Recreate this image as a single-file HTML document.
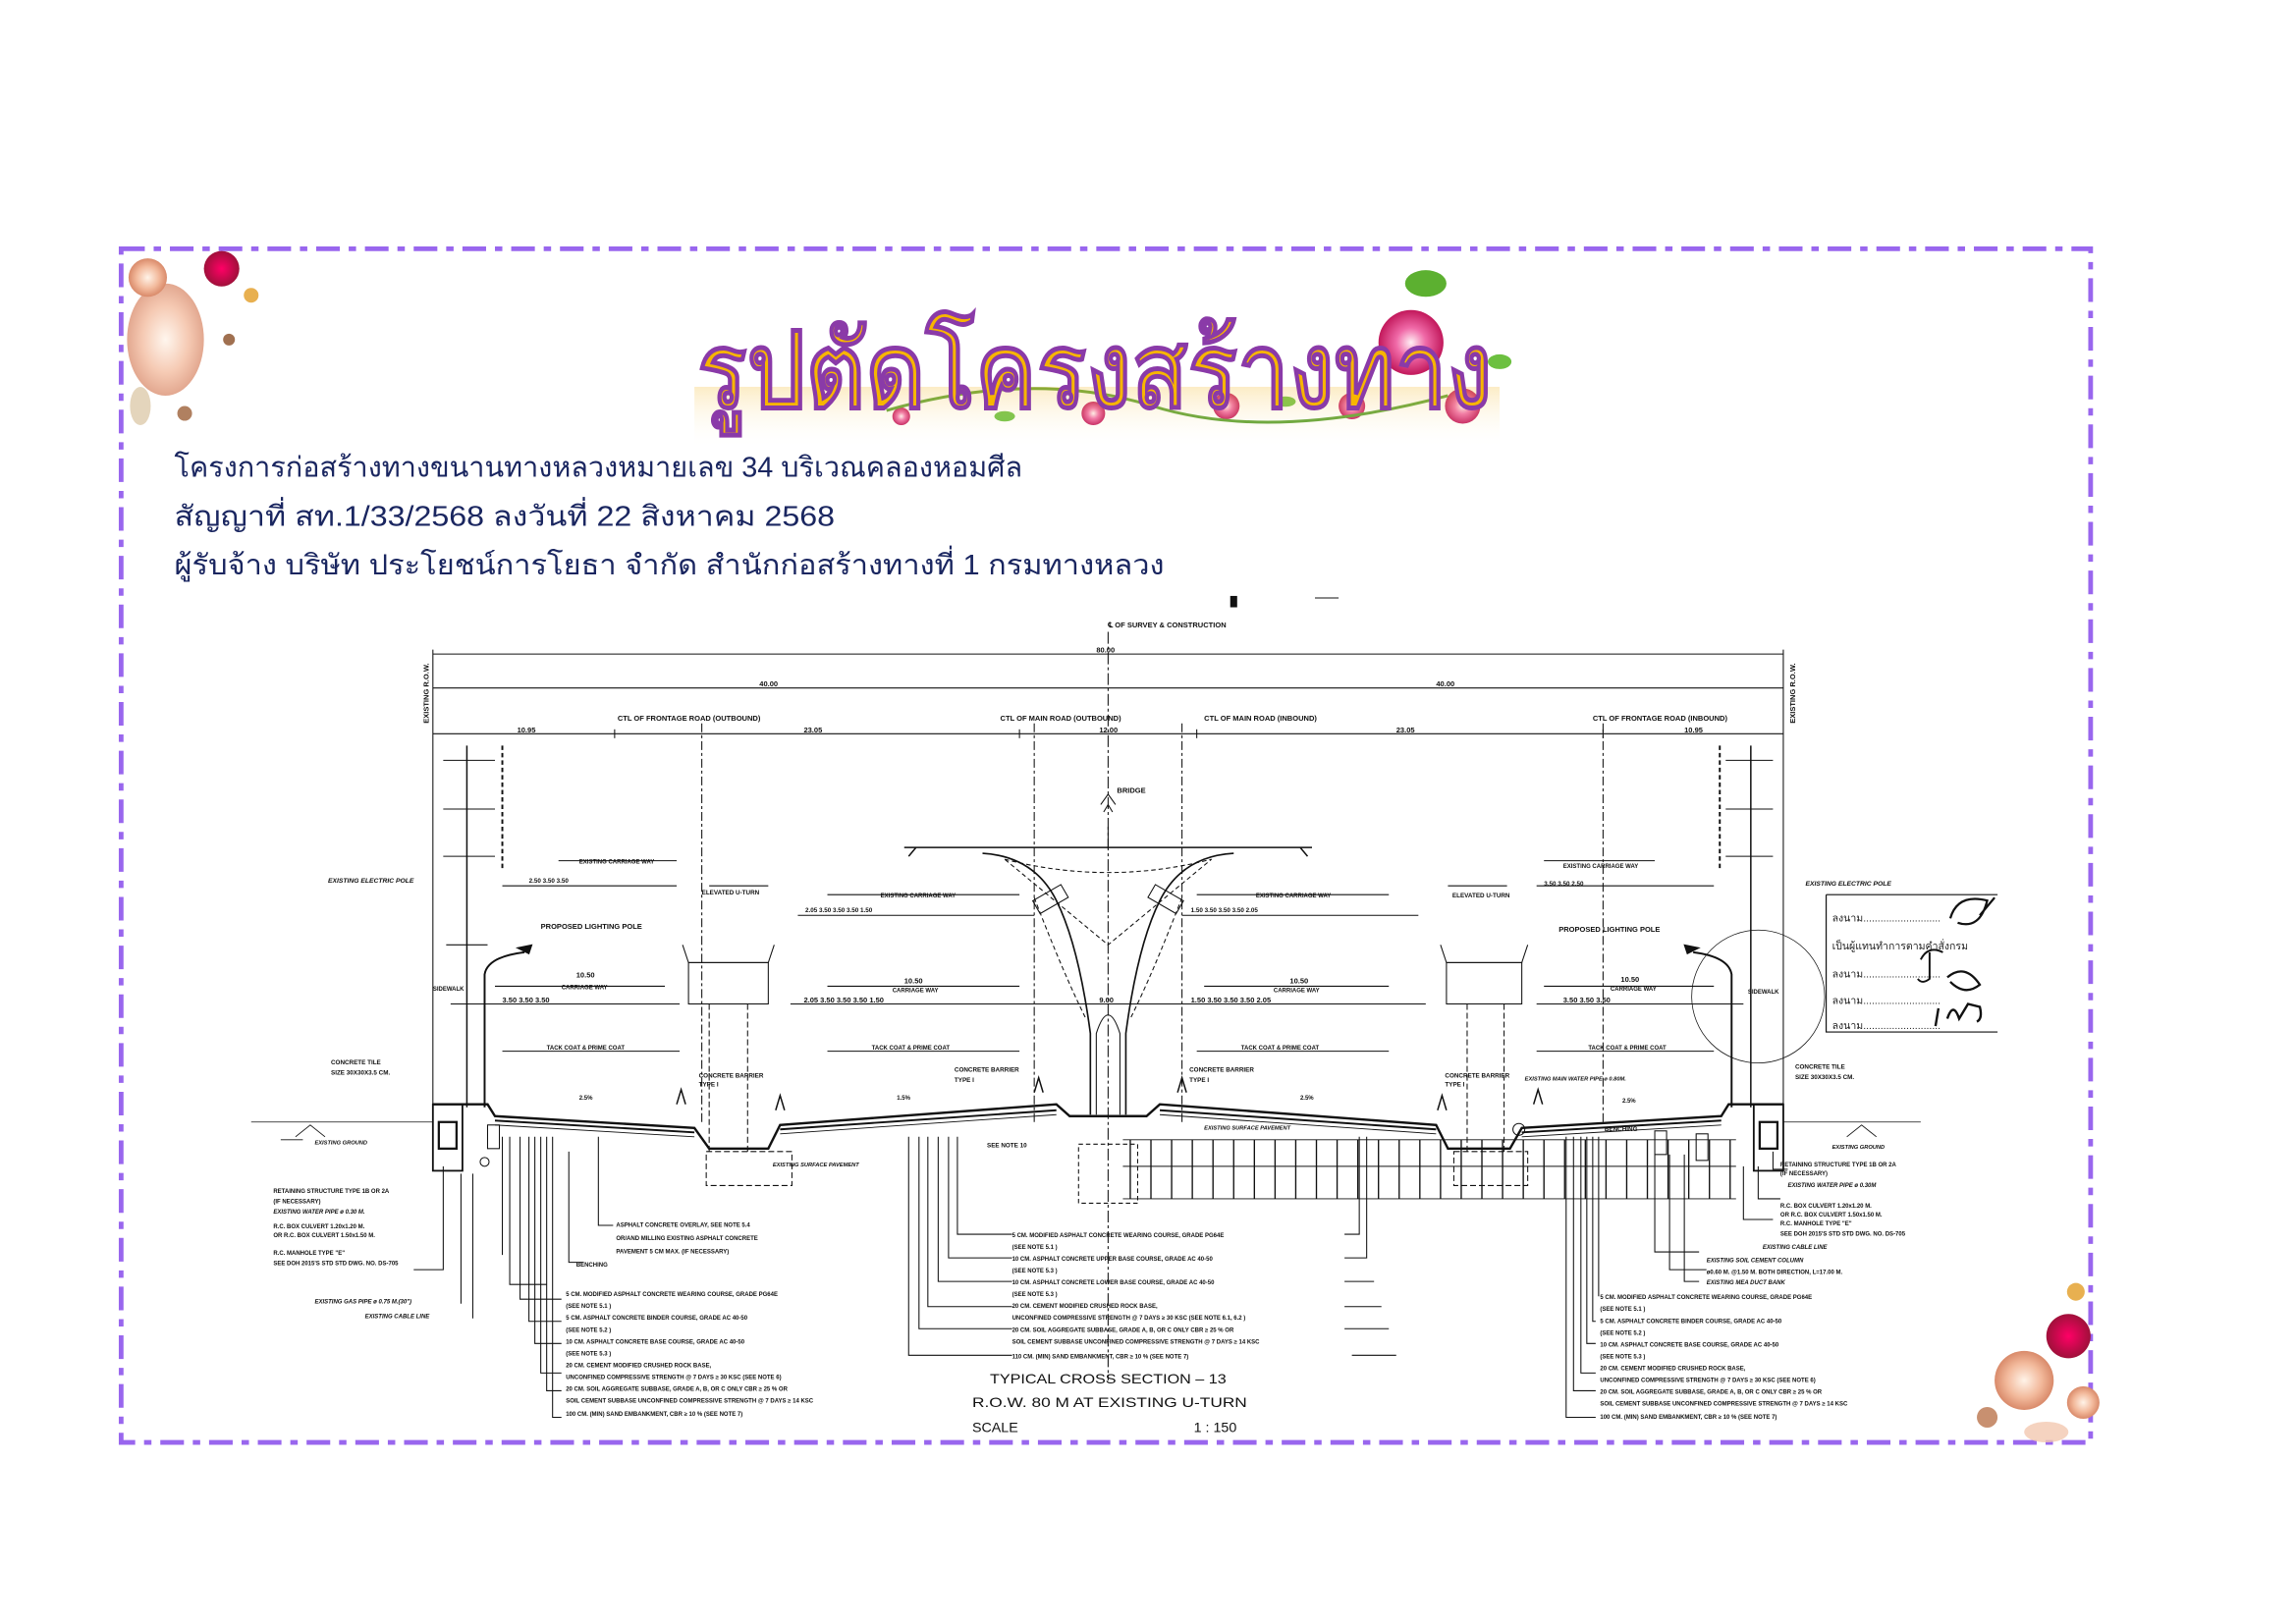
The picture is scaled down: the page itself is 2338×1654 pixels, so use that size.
<!DOCTYPE html>
<html><head><meta charset="utf-8"><style>
html,body{margin:0;padding:0;background:#fff;}
svg{display:block}
.t{font-family:"Liberation Sans",sans-serif;font-weight:bold;fill:#111;}
</style></head><body>
<svg width="2338" height="1654" viewBox="0 0 1554 1100" preserveAspectRatio="none" xmlns="http://www.w3.org/2000/svg">
<defs>
<radialGradient id="pk" cx="50%" cy="50%" r="50%"><stop offset="0" stop-color="#fff0f5"/><stop offset=".45" stop-color="#f06aa8"/><stop offset="1" stop-color="#c2185b"/></radialGradient>
<radialGradient id="pe" cx="50%" cy="50%" r="50%"><stop offset="0" stop-color="#fff3e8"/><stop offset=".6" stop-color="#f2b89a"/><stop offset="1" stop-color="#d98a6a"/></radialGradient>
<radialGradient id="rd" cx="50%" cy="50%" r="50%"><stop offset="0" stop-color="#f06"/><stop offset="1" stop-color="#a0103a"/></radialGradient>
<linearGradient id="refl" x1="0" y1="0" x2="0" y2="1"><stop offset="0" stop-color="#f5c040" stop-opacity=".6"/><stop offset="1" stop-color="#fff" stop-opacity="0"/></linearGradient>
</defs>

<rect x="82" y="168.5" width="1333" height="808.5" fill="none" stroke="#9966ee" stroke-width="3.2" stroke-dasharray="16 6 5 6"/>

<g>
<ellipse cx="112" cy="230" rx="26" ry="38" fill="url(#pe)" opacity=".75"/>
<circle cx="100" cy="188" r="13" fill="url(#pe)"/>
<circle cx="150" cy="182" r="12" fill="url(#rd)"/>
<circle cx="170" cy="200" r="5" fill="#e8b050"/>
<circle cx="125" cy="280" r="5" fill="#b08060"/>
<circle cx="155" cy="230" r="4" fill="#a07050"/>
<ellipse cx="95" cy="275" rx="7" ry="13" fill="#d9c3a0" opacity=".7"/>
</g>
<g>
<ellipse cx="965" cy="192" rx="14" ry="9" fill="#5cb030"/>
<ellipse cx="1015" cy="245" rx="8" ry="5" fill="#6cc040"/>
<circle cx="955" cy="232" r="22" fill="url(#pk)"/>
<circle cx="990" cy="275" r="12" fill="url(#pk)"/>
<circle cx="915" cy="275" r="9" fill="url(#pk)"/>
<circle cx="830" cy="275" r="9" fill="url(#pk)"/>
<circle cx="740" cy="280" r="8" fill="url(#pk)"/>
<circle cx="610" cy="282" r="6" fill="url(#pk)"/>
<path d="M600 278 Q700 250 780 275 T980 268" stroke="#5ca030" stroke-width="2" fill="none"/>
<ellipse cx="680" cy="282" rx="7" ry="3.5" fill="#6cc040"/>
<ellipse cx="870" cy="272" rx="7" ry="3.5" fill="#6cc040"/>
</g>
<g>
<circle cx="1400" cy="905" r="15" fill="url(#rd)"/>
<circle cx="1370" cy="935" r="20" fill="url(#pe)"/>
<circle cx="1410" cy="950" r="11" fill="url(#pe)"/>
<circle cx="1405" cy="875" r="6" fill="#e8b050"/>
<circle cx="1345" cy="960" r="7" fill="#c89070"/>
<ellipse cx="1385" cy="970" rx="15" ry="7" fill="#f2c8b0" opacity=".8"/>
</g>

<rect x="470" y="262" width="545" height="42" fill="url(#refl)" opacity=".5"/>
<text x="472" y="276" textLength="538" lengthAdjust="spacingAndGlyphs" font-family="'Liberation Sans',sans-serif" font-size="72" font-weight="bold" fill="#f7b500" stroke="#8a3aa8" stroke-width="1">รูปตัดโครงสร้างทาง</text>

<g font-family="'Liberation Sans',sans-serif" font-size="19" fill="#1a2660">
<text x="118" y="323" textLength="574" lengthAdjust="spacingAndGlyphs">โครงการก่อสร้างทางขนานทางหลวงหมายเลข 34  บริเวณคลองหอมศีล</text>
<text x="118" y="356" textLength="447" lengthAdjust="spacingAndGlyphs">สัญญาที่ สท.1/33/2568    ลงวันที่  22 สิงหาคม 2568</text>
<text x="118" y="389" textLength="670" lengthAdjust="spacingAndGlyphs">ผู้รับจ้าง บริษัท ประโยชน์การโยธา จำกัด    สำนักก่อสร้างทางที่ 1    กรมทางหลวง</text>
</g>

<g stroke="#111" stroke-width=".7" fill="none">
<rect x="833" y="404" width="4" height="7" fill="#111"/>
<line x1="890" y1="405" x2="906" y2="405"/>
<line x1="750" y1="428" x2="750" y2="935" stroke-dasharray="8 2 2 2"/>
<line x1="293" y1="443" x2="1207" y2="443"/>
<line x1="293" y1="466" x2="1207" y2="466"/>
<line x1="293" y1="497" x2="1207" y2="497"/>
<line x1="293" y1="440" x2="293" y2="760"/>
<line x1="1207" y1="440" x2="1207" y2="760"/>
<line x1="416" y1="494" x2="416" y2="500"/><line x1="690" y1="494" x2="690" y2="500"/><line x1="810" y1="494" x2="810" y2="500"/><line x1="1085" y1="494" x2="1085" y2="500"/>
<line x1="475" y1="490" x2="475" y2="760" stroke-dasharray="6 2 2 2"/>
<line x1="700" y1="490" x2="700" y2="760" stroke-dasharray="6 2 2 2"/>
<line x1="800" y1="490" x2="800" y2="760" stroke-dasharray="6 2 2 2"/>
<line x1="1085" y1="490" x2="1085" y2="760" stroke-dasharray="6 2 2 2"/>
<line x1="316" y1="505" x2="316" y2="750" stroke-width="1"/>
<line x1="300" y1="515" x2="335" y2="515"/><line x1="300" y1="548" x2="335" y2="548"/><line x1="300" y1="580" x2="335" y2="580"/>
<line x1="340" y1="505" x2="340" y2="590" stroke-dasharray="3 2" stroke-width="1.3"/>
<line x1="302" y1="640" x2="330" y2="640"/>
<line x1="1185" y1="505" x2="1185" y2="750" stroke-width="1"/>
<line x1="1168" y1="515" x2="1200" y2="515"/><line x1="1168" y1="548" x2="1200" y2="548"/><line x1="1168" y1="580" x2="1200" y2="580"/>
<line x1="1164" y1="505" x2="1164" y2="590" stroke-dasharray="3 2" stroke-width="1.3"/>
<path d="M328 750 L328 660 Q330 648 355 645" stroke-width="1.3"/><path d="M350 642 l10 -2 l-2 6z" fill="#111"/>
<path d="M1172 750 L1172 660 Q1170 648 1146 645" stroke-width="1.3"/><path d="M1150 642 l-10 -2 l2 6z" fill="#111"/>
<circle cx="1190" cy="675" r="45" stroke-width=".5"/>
<line x1="340" y1="600" x2="458" y2="600"/><line x1="378" y1="583" x2="458" y2="583"/>
<line x1="480" y1="600" x2="520" y2="600"/>
<line x1="540" y1="620" x2="700" y2="620"/><line x1="560" y1="606" x2="690" y2="606"/>
<line x1="800" y1="620" x2="960" y2="620"/><line x1="810" y1="606" x2="940" y2="606"/>
<line x1="980" y1="600" x2="1020" y2="600"/>
<line x1="1040" y1="600" x2="1160" y2="600"/><line x1="1045" y1="583" x2="1120" y2="583"/>
<line x1="305" y1="680" x2="460" y2="680"/><line x1="335" y1="668" x2="450" y2="668"/>
<line x1="535" y1="680" x2="700" y2="680"/><line x1="560" y1="668" x2="690" y2="668"/>
<line x1="700" y1="680" x2="800" y2="680"/>
<line x1="800" y1="680" x2="965" y2="680"/><line x1="815" y1="668" x2="940" y2="668"/>
<line x1="1040" y1="680" x2="1180" y2="680"/><line x1="1045" y1="668" x2="1160" y2="668"/>
<line x1="340" y1="712" x2="460" y2="712"/><line x1="560" y1="712" x2="690" y2="712"/><line x1="810" y1="712" x2="940" y2="712"/><line x1="1040" y1="712" x2="1160" y2="712"/>
<path d="M462 640 L466 652 L520 652 L524 640"/>
<rect x="466" y="652" width="54" height="28"/>
<line x1="480" y1="680" x2="480" y2="780" stroke-dasharray="4 2"/><line x1="506" y1="680" x2="506" y2="780" stroke-dasharray="4 2"/>
<rect x="478" y="780" width="58" height="23" stroke-dasharray="4 2"/>
<path d="M975 640 L979 652 L1030 652 L1034 640"/>
<rect x="979" y="652" width="51" height="28"/>
<line x1="993" y1="680" x2="993" y2="780" stroke-dasharray="4 2"/><line x1="1018" y1="680" x2="1018" y2="780" stroke-dasharray="4 2"/>
<rect x="984" y="780" width="50" height="23" stroke-dasharray="4 2"/>
<path d="M612 574 L888 574 M620 574 L615 580 M880 574 L885 580" stroke-width="1"/>
<path d="M665 578 Q700 580 715 610 Q730 640 738 700 L738 755 M835 578 Q800 580 785 610 Q770 640 762 700 L762 755" stroke-width="1.1"/>
<path d="M700 608 Q720 660 735 690 M800 608 Q780 660 765 690" stroke-dasharray="3 2"/>
<path d="M680 582 Q750 600 820 582 L750 640 Z" stroke-dasharray="3 2"/>
<path d="M742 755 L742 700 Q750 675 758 700 L758 755"/>
<path d="M750 575 L750 560 M745 545 L750 538 L755 545 M747 550 l3 -5 l3 5"/>
<rect x="700" y="604" width="22" height="10" transform="rotate(-30 711 609)"/>
<rect x="778" y="604" width="22" height="10" transform="rotate(30 789 609)"/>
<rect x="730" y="775" width="40" height="40" stroke-dasharray="3 2"/>
<path d="M293 748 L330 748 L335 756 L470 764 L480 778 L520 778 L528 762 L715 748 L724 756 L776 756 L785 748 L972 762 L980 778 L1022 778 L1030 764 L1165 756 L1170 748 L1207 748" stroke-width="1.6"/>
<path d="M335 759 L470 767 M528 765 L715 752 M785 752 L972 765 M1030 767 L1165 759" stroke-width="1.3"/>
<path d="M335 762 L470 770 M528 768 L715 755 M785 755 L972 768 M1030 770 L1165 762" stroke-width=".6"/>
<path d="M293 760 L170 760" stroke-width=".5"/><path d="M1207 760 L1300 760" stroke-width=".5"/>
<path d="M200 770 l10 -8 l10 8 M190 772 l15 0" stroke-width=".6"/>
<path d="M1250 770 l10 -8 l10 8" stroke-width=".6"/>
<path d="M458 748 l3 -10 l3 10 M525 752 l3 -10 l3 10 M700 740 l3 -10 l3 10 M797 740 l3 -10 l3 10 M973 752 l3 -10 l3 10 M1038 748 l3 -10 l3 10" stroke-width="1"/>
<rect x="293" y="748" width="20" height="45" stroke-width="1.2"/>
<rect x="297" y="760" width="12" height="18" stroke-width="1.5"/>
<rect x="330" y="762" width="8" height="16"/><circle cx="328" cy="787" r="3"/>
<rect x="1187" y="748" width="20" height="45" stroke-width="1.2"/>
<rect x="1191" y="760" width="12" height="18" stroke-width="1.5"/>
<rect x="1120" y="766" width="8" height="16"/><rect x="1148" y="768" width="8" height="18"/>
<circle cx="1028" cy="765" r="4"/>
<g stroke-width=".6">
<line x1="760" y1="772" x2="1175" y2="772"/>
<line x1="760" y1="790" x2="1175" y2="790"/>
<line x1="760" y1="812" x2="1175" y2="812"/>
</g>
<path stroke-width=".9" d="M765 772v40M779 772v40M793 772v40M807 772v40M821 772v40M835 772v40M849 772v40M863 772v40M877 772v40M891 772v40M905 772v40M919 772v40M933 772v40M947 772v40M961 772v40M975 772v40M989 772v40M1003 772v40M1017 772v40M1031 772v40M1045 772v40M1059 772v40M1073 772v40M1087 772v40M1101 772v40M1115 772v40M1129 772v40M1143 772v40M1157 772v40M1171 772v40"/>
<path d="M300 790 L300 860 L280 860 M312 795 L312 883 M320 795 L320 893 M340 770 L340 850 M345 770 L345 870 L370 870 M352 770 L352 880 L380 880 M358 770 L358 895 L380 895 M362 770 L362 910 L380 910 M366 770 L366 930 L380 930 M370 770 L370 942 L380 942 M374 770 L374 960 L380 960 M385 780 L385 855 L395 855 M405 770 L405 830 L415 830"/>
<path d="M615 770 L615 918 L685 918 M622 770 L622 900 L685 900 M628 770 L628 885 L685 885 M635 770 L635 868 L685 868 M642 770 L642 852 L685 852 M648 770 L648 836 L685 836 M910 836 L920 836 L920 770 M910 852 L925 852 L925 770 M910 868 L930 868 M910 885 L935 885 M910 900 L940 900 M915 918 L945 918"/>
<path d="M1060 770 L1060 960 L1080 960 M1065 770 L1065 942 L1080 942 M1070 770 L1070 930 L1080 930 M1074 770 L1074 910 L1080 910 M1078 770 L1078 895 L1080 895 M1082 770 L1082 878 M1120 782 L1120 848 L1150 848 M1130 782 L1130 860 L1155 860 M1140 782 L1140 868 L1150 868 M1180 790 L1180 826 L1200 826 M1190 790 L1190 812 L1205 812 M1200 780 L1200 792 L1210 792"/>
<path d="M1236 606 L1352 606 M1236 606 L1236 699 L1352 699" stroke-width=".8"/>
<path d="M1320 622 Q1325 605 1345 610 Q1340 630 1325 625 M1340 620 l10 -12" stroke-width="1.5"/>
<path d="M1300 650 q5 -10 15 -5 M1306 645 l0 18 q-5 4 -8 0" stroke-width="1.3"/>
<path d="M1318 662 q12 -10 22 5 q-10 8 -20 -2" stroke-width="1.5"/>
<path d="M1310 695 l2 -12 M1318 690 q4 -12 8 0 l6 -10 l8 2 q2 8 -2 10" stroke-width="1.6"/>
</g>

<g class="t" font-size="5">
<text x="750" y="425">℄ OF SURVEY &amp; CONSTRUCTION</text>
<text x="742" y="442">80.00</text>
<text x="514" y="465">40.00</text><text x="972" y="465">40.00</text>
<text x="418" y="488">CTL OF FRONTAGE ROAD (OUTBOUND)</text>
<text x="677" y="488">CTL OF MAIN ROAD (OUTBOUND)</text>
<text x="815" y="488">CTL OF MAIN ROAD (INBOUND)</text>
<text x="1078" y="488">CTL OF FRONTAGE ROAD (INBOUND)</text>
<text x="350" y="496">10.95</text><text x="544" y="496">23.05</text><text x="744" y="496">12.00</text><text x="945" y="496">23.05</text><text x="1140" y="496">10.95</text>
<text transform="translate(290 490) rotate(-90)">EXISTING R.O.W.</text>
<text transform="translate(1215 490) rotate(-90)">EXISTING R.O.W.</text>
<text x="756" y="537">BRIDGE</text>
<text x="222" y="598" font-style="italic" font-size="4.5">EXISTING ELECTRIC POLE</text>
<text x="1222" y="600" font-style="italic" font-size="4.5">EXISTING ELECTRIC POLE</text>
<text x="366" y="629">PROPOSED LIGHTING POLE</text>
<text x="1055" y="631">PROPOSED LIGHTING POLE</text>
<text x="358" y="598" font-size="4.2">2.50   3.50   3.50</text>
<text x="392" y="585" font-size="4">EXISTING CARRIAGE WAY</text>
<text x="475" y="606" font-size="4.2">ELEVATED U-TURN</text>
<text x="545" y="618" font-size="4.2">2.05  3.50   3.50   3.50  1.50</text>
<text x="596" y="608" font-size="4">EXISTING CARRIAGE WAY</text>
<text x="806" y="618" font-size="4.2">1.50  3.50   3.50   3.50  2.05</text>
<text x="850" y="608" font-size="4">EXISTING CARRIAGE WAY</text>
<text x="983" y="608" font-size="4.2">ELEVATED U-TURN</text>
<text x="1045" y="600" font-size="4.2">3.50   3.50   2.50</text>
<text x="1058" y="588" font-size="4">EXISTING CARRIAGE WAY</text>
<text x="390" y="662">10.50</text><text x="380" y="670" font-size="4">CARRIAGE WAY</text>
<text x="340" y="679">3.50    3.50    3.50</text>
<text x="612" y="666">10.50</text><text x="604" y="672" font-size="4">CARRIAGE WAY</text>
<text x="544" y="679">2.05   3.50   3.50   3.50  1.50</text>
<text x="744" y="679">9.00</text>
<text x="873" y="666">10.50</text><text x="862" y="672" font-size="4">CARRIAGE WAY</text>
<text x="806" y="679">1.50   3.50   3.50   3.50  2.05</text>
<text x="1097" y="665">10.50</text><text x="1090" y="671" font-size="4">CARRIAGE WAY</text>
<text x="1058" y="679">3.50    3.50    3.50</text>
<text x="293" y="671" font-size="4">SIDEWALK</text><text x="1183" y="673" font-size="4">SIDEWALK</text>
<text x="370" y="711" font-size="4">TACK COAT &amp; PRIME COAT</text>
<text x="590" y="711" font-size="4">TACK COAT &amp; PRIME COAT</text>
<text x="840" y="711" font-size="4">TACK COAT &amp; PRIME COAT</text>
<text x="1075" y="711" font-size="4">TACK COAT &amp; PRIME COAT</text>
<text x="224" y="721" font-size="4.2">CONCRETE TILE</text><text x="224" y="728" font-size="4.2">SIZE 30X30X3.5 CM.</text>
<text x="1215" y="724" font-size="4.2">CONCRETE TILE</text><text x="1215" y="731" font-size="4.2">SIZE 30X30X3.5 CM.</text>
<text x="473" y="730" font-size="4.2">CONCRETE BARRIER</text><text x="473" y="736" font-size="4.2">TYPE I</text>
<text x="646" y="726" font-size="4.2">CONCRETE BARRIER</text><text x="646" y="733" font-size="4.2">TYPE I</text>
<text x="805" y="726" font-size="4.2">CONCRETE BARRIER</text><text x="805" y="733" font-size="4.2">TYPE I</text>
<text x="978" y="730" font-size="4.2">CONCRETE BARRIER</text><text x="978" y="736" font-size="4.2">TYPE I</text>
<text x="1032" y="732" font-size="3.8" font-style="italic">EXISTING MAIN WATER PIPE ø 0.80M.</text>
<text x="392" y="745" font-size="4">2.5%</text><text x="607" y="745" font-size="4">1.5%</text><text x="880" y="745" font-size="4">2.5%</text><text x="1098" y="747" font-size="4">2.5%</text>
<text x="213" y="775" font-size="3.8" font-style="italic">EXISTING GROUND</text>
<text x="1240" y="778" font-size="3.8" font-style="italic">EXISTING GROUND</text>
<text x="815" y="765" font-size="3.8" font-style="italic">EXISTING SURFACE PAVEMENT</text>
<text x="523" y="790" font-size="3.8" font-style="italic">EXISTING SURFACE PAVEMENT</text>
<text x="668" y="777" font-size="4.2">SEE NOTE 10</text>
<text x="1086" y="766" font-size="4.2">BENCHING</text>
<g font-size="4">
<text x="185" y="808">RETAINING STRUCTURE TYPE 1B OR 2A</text><text x="185" y="815">(IF NECESSARY)</text>
<text x="185" y="822" font-style="italic">EXISTING WATER PIPE ø 0.30 M.</text>
<text x="185" y="832">R.C. BOX CULVERT 1.20x1.20 M.</text><text x="185" y="838">OR R.C. BOX CULVERT 1.50x1.50 M.</text>
<text x="185" y="850">R.C. MANHOLE TYPE "E"</text><text x="185" y="857">SEE DOH 2015'S STD STD DWG. NO. DS-705</text>
<text x="213" y="883" font-style="italic">EXISTING GAS PIPE ø 0.75 M.(30")</text>
<text x="247" y="893" font-style="italic">EXISTING CABLE LINE</text>
<text x="390" y="858">BENCHING</text>
<text x="417" y="831">ASPHALT CONCRETE OVERLAY, SEE NOTE 5.4</text><text x="417" y="840">OR/AND MILLING EXISTING ASPHALT CONCRETE</text><text x="417" y="849">PAVEMENT 5 CM MAX. (IF NECESSARY)</text>
<text x="383" y="878">5 CM. MODIFIED ASPHALT CONCRETE WEARING COURSE, GRADE PG64E</text><text x="383" y="886">(SEE NOTE 5.1 )</text>
<text x="383" y="894">5 CM. ASPHALT CONCRETE BINDER COURSE, GRADE AC 40-50</text><text x="383" y="902">(SEE NOTE 5.2 )</text>
<text x="383" y="910">10 CM. ASPHALT CONCRETE BASE COURSE, GRADE AC 40-50</text><text x="383" y="918">(SEE NOTE 5.3 )</text>
<text x="383" y="926">20 CM. CEMENT MODIFIED CRUSHED ROCK BASE,</text><text x="383" y="934">UNCONFINED COMPRESSIVE STRENGTH @ 7 DAYS ≥ 30 KSC (SEE NOTE 6)</text>
<text x="383" y="942">20 CM. SOIL AGGREGATE SUBBASE, GRADE A, B, OR C ONLY  CBR ≥ 25 % OR</text><text x="383" y="950">SOIL CEMENT SUBBASE UNCONFINED COMPRESSIVE STRENGTH @ 7 DAYS ≥ 14 KSC</text>
<text x="383" y="959">100 CM. (MIN) SAND EMBANKMENT, CBR ≥ 10 % (SEE NOTE 7)</text>
<text x="685" y="838">5 CM. MODIFIED ASPHALT CONCRETE WEARING COURSE, GRADE PG64E</text><text x="685" y="846">(SEE NOTE 5.1 )</text>
<text x="685" y="854">10 CM. ASPHALT CONCRETE UPPER BASE COURSE, GRADE AC 40-50</text><text x="685" y="862">(SEE NOTE 5.3 )</text>
<text x="685" y="870">10 CM. ASPHALT CONCRETE LOWER BASE COURSE, GRADE AC 40-50</text><text x="685" y="878">(SEE NOTE 5.3 )</text>
<text x="685" y="886">20 CM. CEMENT MODIFIED CRUSHED ROCK BASE,</text><text x="685" y="894">UNCONFINED COMPRESSIVE STRENGTH @ 7 DAYS ≥ 30 KSC (SEE NOTE 6.1, 6.2 )</text>
<text x="685" y="902">20 CM. SOIL AGGREGATE SUBBASE, GRADE A, B, OR C ONLY CBR ≥ 25 % OR</text><text x="685" y="910">SOIL CEMENT SUBBASE UNCONFINED COMPRESSIVE STRENGTH @ 7 DAYS ≥ 14 KSC</text>
<text x="685" y="920">110 CM. (MIN) SAND EMBANKMENT, CBR ≥ 10 % (SEE NOTE 7)</text>
<text x="1205" y="790">RETAINING STRUCTURE TYPE 1B OR 2A</text><text x="1205" y="796">(IF NECESSARY)</text>
<text x="1210" y="804" font-style="italic">EXISTING WATER PIPE ø 0.30M</text>
<text x="1205" y="818">R.C. BOX CULVERT 1.20x1.20 M.</text><text x="1205" y="824">OR R.C. BOX CULVERT 1.50x1.50 M.</text>
<text x="1205" y="830">R.C. MANHOLE TYPE "E"</text><text x="1205" y="837">SEE DOH 2015'S STD STD DWG. NO. DS-705</text>
<text x="1193" y="846" font-style="italic">EXISTING CABLE LINE</text>
<text x="1155" y="855" font-style="italic">EXISTING SOIL CEMENT COLUMN</text><text x="1155" y="863">ø0.60 M. @1.50 M. BOTH DIRECTION, L=17.00 M.</text>
<text x="1155" y="870" font-style="italic">EXISTING MEA DUCT BANK</text>
<text x="1083" y="880">5 CM. MODIFIED ASPHALT CONCRETE WEARING COURSE, GRADE PG64E</text><text x="1083" y="888">(SEE NOTE 5.1 )</text>
<text x="1083" y="896">5 CM. ASPHALT CONCRETE BINDER COURSE, GRADE AC 40-50</text><text x="1083" y="904">(SEE NOTE 5.2 )</text>
<text x="1083" y="912">10 CM. ASPHALT CONCRETE BASE COURSE, GRADE AC 40-50</text><text x="1083" y="920">(SEE NOTE 5.3 )</text>
<text x="1083" y="928">20 CM. CEMENT MODIFIED CRUSHED ROCK BASE,</text><text x="1083" y="936">UNCONFINED COMPRESSIVE STRENGTH @ 7 DAYS ≥ 30 KSC (SEE NOTE 6)</text>
<text x="1083" y="944">20 CM. SOIL AGGREGATE SUBBASE, GRADE A, B, OR C ONLY  CBR ≥ 25 % OR</text><text x="1083" y="952">SOIL CEMENT SUBBASE UNCONFINED COMPRESSIVE STRENGTH @ 7 DAYS ≥ 14 KSC</text>
<text x="1083" y="961">100 CM. (MIN) SAND EMBANKMENT, CBR ≥ 10 % (SEE NOTE 7)</text>
</g>
</g>
<g font-family="'Liberation Sans',sans-serif" font-size="7" fill="#222">
<text x="1240" y="624">ลงนาม...........................</text>
<text x="1240" y="643">เป็นผู้แทนทำการตามคำสั่งกรม</text>
<text x="1240" y="662">ลงนาม...........................</text>
<text x="1240" y="680">ลงนาม...........................</text>
<text x="1240" y="697">ลงนาม...........................</text>
</g>
<g font-family="'Liberation Sans',sans-serif" font-size="9.5" fill="#111">
<text x="670" y="937" textLength="160" lengthAdjust="spacingAndGlyphs">TYPICAL CROSS SECTION – 13</text>
<text x="658" y="953" textLength="186" lengthAdjust="spacingAndGlyphs">R.O.W. 80 M AT EXISTING U-TURN</text>
<text x="658" y="970">SCALE</text>
<text x="808" y="970">1 : 150</text>
</g>
</svg>
</body></html>
